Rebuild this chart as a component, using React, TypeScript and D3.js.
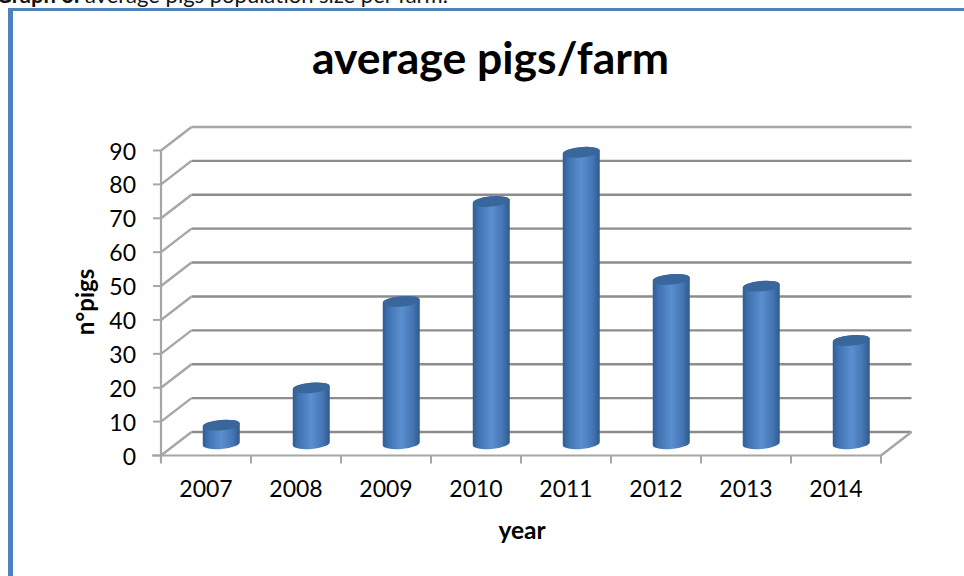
import React from "react";
import * as d3 from "d3";

const years = ["2007", "2008", "2009", "2010", "2011", "2012", "2013", "2014"];
const pigsPerFarm = [5.5, 16.5, 42, 71.5, 86, 48.5, 46.5, 30.5];
const yTicks = [0, 10, 20, 30, 40, 50, 60, 70, 80, 90];

const width = 964;
const height = 576;
const depthX = 30.5;
const depthY = -23.5;

const x = d3.scaleBand<string>().domain(years).range([161, 881]);
const y = d3.scaleLinear().domain([0, 90]).range([455.5, 150.5]);

const GRID = "#8c8c8c";
const AXIS = "#a6a6a6";
const FONT = "Lato, 'Open Sans', sans-serif";

// One cylinder sitting halfway into the floor's depth
function cylinderPaths(year: string, value: number) {
  const cx = (x(year) as number) + x.bandwidth() / 2 + depthX / 2;
  const rx = 18.5;
  const ry = 5.2;
  const base = y(0) + depthY / 2;
  const top = y(value) + depthY / 2;
  const tilt = 1.6;
  const body =
    `M${cx - rx},${top + tilt} L${cx - rx},${base + tilt} ` +
    `A${rx},${ry} -5 0 0 ${cx + rx},${base - tilt} L${cx + rx},${top - tilt} ` +
    `A${rx},${ry} -5 0 0 ${cx - rx},${top + tilt} Z`;
  return { body, cx, rx, ry, top };
}

export default function App() {
  return (
    <svg
      width={width}
      height={height}
      viewBox={`0 0 ${width} ${height}`}
      style={{ position: "absolute", left: 0, top: 0, background: "#fff" }}
    >
      <defs>
        <linearGradient id="barShade" x1="0" x2="1" y1="0" y2="0">
          <stop offset="0" stopColor="#2f5d94" />
          <stop offset="0.14" stopColor="#3f71ae" />
          <stop offset="0.5" stopColor="#5a8fd0" />
          <stop offset="0.8" stopColor="#4676b4" />
          <stop offset="1" stopColor="#2f5a8e" />
        </linearGradient>
      </defs>

      <text x={-4} y={3} fontFamily={FONT} fontSize={22} fill="#111">
        <tspan fontWeight="bold">Graph 3.</tspan> average pigs population size per farm.
      </text>

      {/* Chart frame, open on the right */}
      <rect x={8} y={8} width={956} height={3} fill="#4f81bd" />
      <rect x={8} y={8} width={5} height={568} fill="#4f81bd" />

      <text
        x={490.5}
        y={74}
        textAnchor="middle"
        fontFamily={FONT}
        fontWeight="bold"
        fontSize={44.5}
        fill="#000"
      >
        average pigs/farm
      </text>

      {/* Back wall gridlines and their slanted side-wall returns */}
      {yTicks.map((t) => (
        <g key={t} fill="none" strokeWidth={2.4}>
          <line x1={x.range()[0] + depthX} x2={x.range()[1] + depthX} y1={y(t) + depthY} y2={y(t) + depthY} stroke={t === 90 ? AXIS : GRID} />
          <line x1={x.range()[0]} x2={x.range()[0] + depthX} y1={y(t)} y2={y(t) + depthY} stroke={AXIS} />
        </g>
      ))}
      {/* Right edge of the floor */}
      <line x1={881} x2={881 + depthX} y1={y(0)} y2={y(0) + depthY} stroke={AXIS} strokeWidth={2.4} />

      {/* Front axes */}
      <line x1={161} x2={161} y1={y(90)} y2={y(0) + 7} stroke={AXIS} strokeWidth={2.2} />
      <line x1={152} x2={881} y1={y(0)} y2={y(0)} stroke={AXIS} strokeWidth={2.2} />
      {yTicks.map((t) => (
        <line key={t} x1={153} x2={161} y1={y(t)} y2={y(t)} stroke={AXIS} strokeWidth={2} />
      ))}
      {[...years.map((d) => x(d) as number), x.range()[1]].map((px) => (
        <line key={px} x1={px} x2={px} y1={y(0)} y2={y(0) + 8} stroke={AXIS} strokeWidth={2} />
      ))}

      {years.map((year, i) => {
        const { body, cx, rx, ry, top } = cylinderPaths(year, pigsPerFarm[i]);
        return (
          <g key={year}>
            <path d={body} fill="url(#barShade)" />
            <ellipse cx={cx} cy={top} rx={rx} ry={ry} transform={`rotate(-5 ${cx} ${top})`} fill="#39669b" />
          </g>
        );
      })}

      {yTicks.map((t) => (
        <text key={t} x={136} y={y(t) + 9} textAnchor="end" fontFamily={FONT} fontSize={23} fill="#000">
          {t}
        </text>
      ))}
      {years.map((year) => (
        <text
          key={year}
          x={(x(year) as number) + x.bandwidth() / 2}
          y={497}
          textAnchor="middle"
          fontFamily={FONT}
          fontSize={23}
          fill="#000"
        >
          {year}
        </text>
      ))}

      <text x={522} y={539} textAnchor="middle" fontFamily={FONT} fontWeight="bold" fontSize={24.5} fill="#000">
        year
      </text>
      <text
        transform="translate(94 302) rotate(-90)"
        textAnchor="middle"
        fontFamily={FONT}
        fontWeight="bold"
        fontSize={24}
        fill="#000"
      >
        n°pigs
      </text>
    </svg>
  );
}
